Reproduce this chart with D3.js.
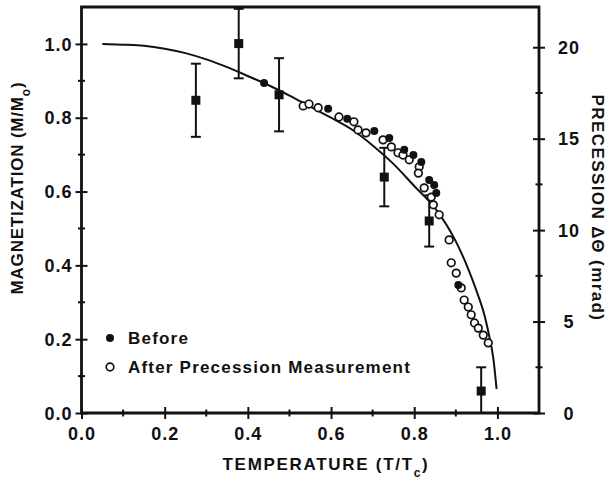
<!DOCTYPE html>
<html>
<head>
<meta charset="utf-8">
<script src="https://cdn.jsdelivr.net/npm/d3@7"></script>
<style>
  body { margin: 0; background: #fff; }
  text { font-family: "Liberation Sans", Arial, sans-serif; font-weight: bold; fill: #111; }
</style>
</head>
<body>
<svg id="chart" width="608" height="483"></svg>
<script>
// theory curve
var curveT = [0.05, 0.1, 0.15, 0.2, 0.25, 0.3, 0.35, 0.4, 0.45, 0.5, 0.55, 0.6, 0.65, 0.7, 0.75, 0.8, 0.85, 0.9, 0.93, 0.95, 0.97, 0.98, 0.99, 0.998];
var curveM = [1.0, 0.998, 0.995, 0.987, 0.975, 0.958, 0.937, 0.913, 0.888, 0.86, 0.83, 0.80, 0.768, 0.725, 0.675, 0.615, 0.555, 0.465, 0.39, 0.33, 0.26, 0.21, 0.15, 0.065];

// "Before" (filled dots)
var beforeT = [0.439, 0.593, 0.639, 0.704, 0.740, 0.776, 0.798, 0.817, 0.836, 0.848, 0.853, 0.906];
var beforeM = [0.894, 0.824, 0.797, 0.764, 0.745, 0.713, 0.699, 0.680, 0.631, 0.618, 0.596, 0.347];

// "After Precession Measurement" (open circles)
var afterT = [0.533, 0.547, 0.569, 0.619, 0.655, 0.665, 0.684, 0.725, 0.745, 0.761, 0.773, 0.788, 0.812, 0.810, 0.824, 0.841, 0.846, 0.860, 0.884, 0.889, 0.901, 0.913, 0.920, 0.930, 0.937, 0.945, 0.954, 0.966, 0.978];
var afterM = [0.832, 0.837, 0.827, 0.802, 0.789, 0.767, 0.759, 0.740, 0.721, 0.705, 0.699, 0.686, 0.667, 0.650, 0.610, 0.585, 0.564, 0.537, 0.469, 0.407, 0.379, 0.339, 0.306, 0.287, 0.266, 0.244, 0.230, 0.211, 0.190];

// precession (squares, right axis, mrad)
var precT = [0.275, 0.378, 0.475, 0.728, 0.836, 0.961];
var precVal = [17.1, 20.2, 17.4, 12.9, 10.5, 1.2];
var precErr = [2.0, 1.9, 2.0, 1.6, 1.4, 1.3];

var xTicks = [0, 0.2, 0.4, 0.6, 0.8, 1.0];
var yTicks = [0, 0.2, 0.4, 0.6, 0.8, 1.0];
var y2Ticks = [0, 5, 10, 15, 20];
var minorX = [0.1, 0.3, 0.5, 0.7, 0.9];
var minorY = [0.1, 0.3, 0.5, 0.7, 0.9];
var minorY2 = [2.5, 7.5, 12.5, 17.5];

(function() {
  var svg = d3.select("#chart");
  var pL = 81.5, pT = 7, pR = 539, pB = 413;

  var x = d3.scaleLinear().domain([0, 1.1]).range([pL, pR]);
  var y = d3.scaleLinear().domain([0, 1.1]).range([pB, pT]);
  var y2 = d3.scaleLinear().domain([0, 22.2]).range([pB, pT]);

  // ticks crossing the axis line
  function crossTicks(g, vertical) {
    g.select(".domain").remove();
    g.selectAll(".tick line").attr("stroke", "#111").attr("stroke-width", 2);
    if (vertical) g.selectAll(".tick line").attr("x1", -6).attr("x2", 6);
    else g.selectAll(".tick line").attr("y1", -6).attr("y2", 6);
  }

  var gx = svg.append("g").attr("transform", "translate(0," + pB + ")");
  gx.selectAll("line.m").data(minorX).enter().append("line").attr("class", "m")
    .attr("x1", function(d) { return x(d); }).attr("x2", function(d) { return x(d); })
    .attr("y1", -3.5).attr("y2", 3.5).attr("stroke", "#111").attr("stroke-width", 2);
  gx.call(d3.axisBottom(x).tickValues(xTicks).tickFormat(d3.format(".1f")).tickSize(6));
  crossTicks(gx, false);
  gx.selectAll(".tick text").attr("y", 14).attr("dy", "0.71em").attr("fill", "#111")
    .style("font-size", "18px").style("letter-spacing", "1px");

  var gy = svg.append("g").attr("transform", "translate(" + pL + ",0)");
  gy.selectAll("line.m").data(minorY).enter().append("line").attr("class", "m")
    .attr("y1", function(d) { return y(d); }).attr("y2", function(d) { return y(d); })
    .attr("x1", -3.5).attr("x2", 3.5).attr("stroke", "#111").attr("stroke-width", 2);
  gy.call(d3.axisLeft(y).tickValues(yTicks).tickFormat(d3.format(".1f")).tickSize(6));
  crossTicks(gy, true);
  gy.selectAll(".tick text").attr("x", -9).attr("dy", "0.34em").attr("text-anchor", "end").attr("fill", "#111")
    .style("font-size", "18px").style("letter-spacing", "1px");

  var gy2 = svg.append("g").attr("transform", "translate(" + pR + ",0)");
  gy2.selectAll("line.m").data(minorY2).enter().append("line").attr("class", "m")
    .attr("y1", function(d) { return y2(d); }).attr("y2", function(d) { return y2(d); })
    .attr("x1", -3.5).attr("x2", 3.5).attr("stroke", "#111").attr("stroke-width", 2);
  gy2.call(d3.axisRight(y2).tickValues(y2Ticks).tickSize(6));
  crossTicks(gy2, true);
  gy2.selectAll(".tick text").attr("x", 30).attr("dy", "0.34em").attr("text-anchor", "middle").attr("fill", "#111")
    .style("font-size", "18px").style("letter-spacing", "1px");

  // frame
  svg.append("path")
    .attr("d", "M" + pL + "," + pB + "V" + pT + "H" + pR + "V" + pB + "Z")
    .attr("fill", "none").attr("stroke", "#111").attr("stroke-width", 2.8);

  // axis titles
  var xl = svg.append("text").attr("x", 326).attr("y", 470).attr("text-anchor", "middle")
    .style("font-size", "17px").style("letter-spacing", "1.7px");
  xl.append("tspan").text("TEMPERATURE (T/T");
  xl.append("tspan").attr("baseline-shift", "sub").style("font-size", "12px").text("c");
  xl.append("tspan").text(")");

  var yl = svg.append("text").attr("transform", "translate(23,188) rotate(-90)").attr("text-anchor", "middle")
    .style("font-size", "17px").style("letter-spacing", "0.8px");
  yl.append("tspan").text("MAGNETIZATION (M/M");
  yl.append("tspan").attr("baseline-shift", "sub").style("font-size", "12px").text("o");
  yl.append("tspan").text(")");

  svg.append("text").attr("transform", "translate(592,208) rotate(90)").attr("text-anchor", "middle")
    .style("font-size", "17px").style("letter-spacing", "1.4px")
    .text("PRECESSION \u0394\u0398 (mrad)");

  // theory curve
  var line = d3.line().x(function(d) { return x(d[0]); }).y(function(d) { return y(d[1]); }).curve(d3.curveMonotoneX);
  svg.append("path").datum(d3.zip(curveT, curveM))
    .attr("d", line).attr("fill", "none").attr("stroke", "#111").attr("stroke-width", 2);

  // precession error bars + squares
  var prec = d3.zip(precT, precVal, precErr);
  var eb = svg.append("g").attr("stroke", "#111").attr("stroke-width", 2);
  prec.forEach(function(p) {
    var lo = Math.max(0, p[1] - p[2]), hi = p[1] + p[2];
    eb.append("line").attr("x1", x(p[0])).attr("x2", x(p[0])).attr("y1", y2(lo)).attr("y2", y2(hi));
    eb.append("line").attr("x1", x(p[0]) - 5).attr("x2", x(p[0]) + 5).attr("y1", y2(hi)).attr("y2", y2(hi));
    if (p[1] - p[2] > 0)
      eb.append("line").attr("x1", x(p[0]) - 5).attr("x2", x(p[0]) + 5).attr("y1", y2(lo)).attr("y2", y2(lo));
  });
  svg.selectAll("rect.sq").data(prec).enter().append("rect").attr("class", "sq")
    .attr("x", function(d) { return x(d[0]) - 4.5; })
    .attr("y", function(d) { return y2(d[1]) - 4.5; })
    .attr("width", 9).attr("height", 9).attr("fill", "#111");

  // open circles
  svg.selectAll("circle.after").data(d3.zip(afterT, afterM)).enter().append("circle").attr("class", "after")
    .attr("cx", function(d) { return x(d[0]); }).attr("cy", function(d) { return y(d[1]); })
    .attr("r", 3.8).attr("fill", "#fff").attr("stroke", "#111").attr("stroke-width", 1.7);

  // filled dots
  svg.selectAll("circle.before").data(d3.zip(beforeT, beforeM)).enter().append("circle").attr("class", "before")
    .attr("cx", function(d) { return x(d[0]); }).attr("cy", function(d) { return y(d[1]); })
    .attr("r", 4).attr("fill", "#111");

  // legend
  svg.append("circle").attr("cx", 110).attr("cy", 338).attr("r", 4).attr("fill", "#111");
  svg.append("circle").attr("cx", 110).attr("cy", 367).attr("r", 3.8).attr("fill", "#fff").attr("stroke", "#111").attr("stroke-width", 1.7);
  svg.append("text").attr("x", 128).attr("y", 344).style("font-size", "17px").style("letter-spacing", "1.2px").text("Before");
  svg.append("text").attr("x", 128).attr("y", 373).style("font-size", "17px").style("letter-spacing", "1.2px").text("After Precession Measurement");
})();
</script>
</body>
</html>
